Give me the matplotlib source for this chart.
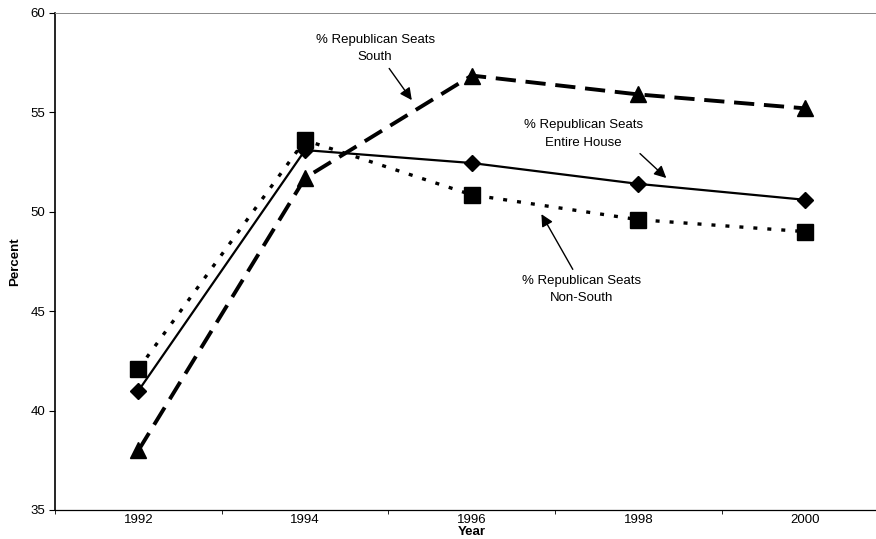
import numpy as np
import matplotlib.pyplot as plt

plt.rcParams['font.family'] = ['Liberation Sans', 'DejaVu Sans']

# data
years = ['1992', '1994', '1996', '1998', '2000']
entire_house = [41.0, 53.1, 52.45, 51.4, 50.6]
non_south = [42.1, 53.6, 50.85, 49.6, 49.0]
south = [38.0, 51.7, 56.85, 55.9, 55.2]

x = np.arange(len(years))

fig = plt.figure(figsize=(8.76, 5.39), dpi=100)
ax = fig.add_axes([0.063, 0.054, 0.951, 0.922])

# the three series
ax.plot(x, entire_house, color='black', linestyle='-', linewidth=1.6,
        marker='D', markersize=8)
ax.plot(x, non_south, color='black', linestyle=(0, (1.2, 3)), linewidth=2.4,
        marker='s', markersize=11)
ax.plot(x, south, color='black', linestyle=(0, (5.2, 2.5)), linewidth=2.8,
        marker='^', markersize=11)

ax.set_xlim(-0.5, len(years) - 0.5)
ax.set_ylim(35, 60)
ax.set_yticks([35, 40, 45, 50, 55, 60])
ax.set_xticks(x)
ax.set_xticklabels(years)
ax.set_xticks(np.arange(len(years) + 1) - 0.5, minor=True)
ax.tick_params(axis='x', which='major', length=0, labelsize=9.5, pad=3)
ax.tick_params(axis='x', which='minor', length=3, direction='out')
ax.tick_params(axis='y', which='major', length=4, labelsize=9.5, pad=3)

ax.set_xlabel('Year', fontsize=9.5, fontweight='bold', labelpad=0)
ax.set_ylabel('Percent', fontsize=9.5, fontweight='bold', labelpad=7)

ax.spines['right'].set_visible(False)
ax.spines['top'].set_color('#888888')
ax.spines['top'].set_linewidth(0.7)
ax.spines['top'].set_linestyle((0, (2, 1)))
ax.spines['left'].set_linewidth(1.2)
ax.spines['bottom'].set_linewidth(0.9)

# labels with arrows
arrow = dict(arrowstyle='-|>', color='black', lw=1.0, mutation_scale=18)
ax.annotate('% Republican Seats\nSouth', xy=(1.65, 55.5), xytext=(1.42, 58.2),
            ha='center', va='center', fontsize=9.5, linespacing=1.6,
            arrowprops=arrow)
ax.annotate('% Republican Seats\nEntire House', xy=(3.18, 51.6), xytext=(2.67, 53.9),
            ha='center', va='center', fontsize=9.5, linespacing=1.6,
            arrowprops=dict(arrow, relpos=(0.92, 0.05)))
ax.annotate('% Republican Seats\nNon-South', xy=(2.41, 50.0), xytext=(2.66, 46.1),
            ha='center', va='center', fontsize=9.5, linespacing=1.6,
            arrowprops=dict(arrow, relpos=(0.45, 1.0)))

fig.savefig('out.png', dpi=100)
